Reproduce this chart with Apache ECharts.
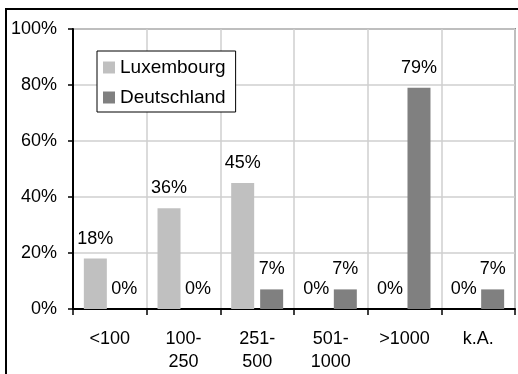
<!DOCTYPE html>
<html>
<head>
<meta charset="utf-8">
<script src="https://cdn.jsdelivr.net/npm/echarts@6/dist/echarts.min.js"></script>
<style>
  html, body { margin: 0; padding: 0; background: #fff; }
  #chart { width: 518px; height: 374px; }
</style>
</head>
<body>
<div id="chart"></div>
<script>
// Size classes (categories) and shares per country, in percent
const categories = ['<100', '100-\n250', '251-\n500', '501-\n1000', '>1000', 'k.A.'];
const luxembourg = [18, 36, 45, 0, 0, 0];
const deutschland = [0, 0, 7, 7, 79, 7];
const seriesNames = ['Luxembourg', 'Deutschland'];
const yTicks = { min: 0, max: 100, step: 20 };

const FONT = 'Liberation Sans, Arial, sans-serif';

const chart = echarts.init(document.getElementById('chart'), null, { renderer: 'canvas' });

const labelStyle = {
  show: true,
  position: 'top',
  distance: 11,
  formatter: '{c}%',
  color: '#000',
  fontSize: 18,
  fontFamily: FONT
};

chart.setOption({
  backgroundColor: '#fff',
  animation: false,
  textStyle: { fontFamily: FONT },
  graphic: [{
    type: 'rect',
    shape: { x: 6, y: 9, width: 600, height: 500 },
    style: { fill: 'none', stroke: '#000', lineWidth: 2 },
    z: 100
  }],
  legend: {
    orient: 'vertical',
    left: 97,
    top: 51,
    padding: [7, 10, 5, 6],
    itemGap: 11,
    itemWidth: 12,
    itemHeight: 12,
    icon: 'rect',
    borderColor: '#000',
    borderWidth: 1,
    backgroundColor: '#fff',
    textStyle: { fontSize: 19, color: '#000', fontFamily: FONT },
    data: seriesNames
  },
  grid: {
    left: 73, right: 3, top: 29, bottom: 64,
    show: true,
    borderColor: '#8a8a8a',
    borderWidth: 2,
    containLabel: false
  },
  xAxis: {
    type: 'category',
    data: categories,
    boundaryGap: true,
    axisLine: { lineStyle: { color: '#000', width: 2 } },
    axisTick: { show: true, length: 6, alignWithLabel: false, lineStyle: { color: '#000', width: 1.5 } },
    splitLine: { show: true, lineStyle: { color: '#cfcfcf', width: 1.5 } },
    axisLabel: {
      color: '#000', fontSize: 18, fontFamily: FONT,
      margin: 19, lineHeight: 23, interval: 0
    }
  },
  yAxis: {
    type: 'value',
    min: yTicks.min,
    max: yTicks.max,
    interval: yTicks.step,
    axisLine: { show: true, lineStyle: { color: '#000', width: 2 } },
    axisTick: { show: true, length: 5, lineStyle: { color: '#000', width: 1.5 } },
    splitLine: { show: true, lineStyle: { color: '#cfcfcf', width: 1.5 } },
    axisLabel: {
      color: '#000', fontSize: 18, fontFamily: FONT,
      margin: 16, formatter: '{value}%'
    }
  },
  series: [
    {
      name: seriesNames[0],
      type: 'bar',
      data: luxembourg,
      barWidth: 23,
      barGap: '26%',
      itemStyle: { color: '#c0c0c0' },
      label: labelStyle
    },
    {
      name: seriesNames[1],
      type: 'bar',
      data: deutschland,
      barWidth: 23,
      barGap: '26%',
      itemStyle: { color: '#808080' },
      label: labelStyle
    }
  ]
});
</script>
</body>
</html>
